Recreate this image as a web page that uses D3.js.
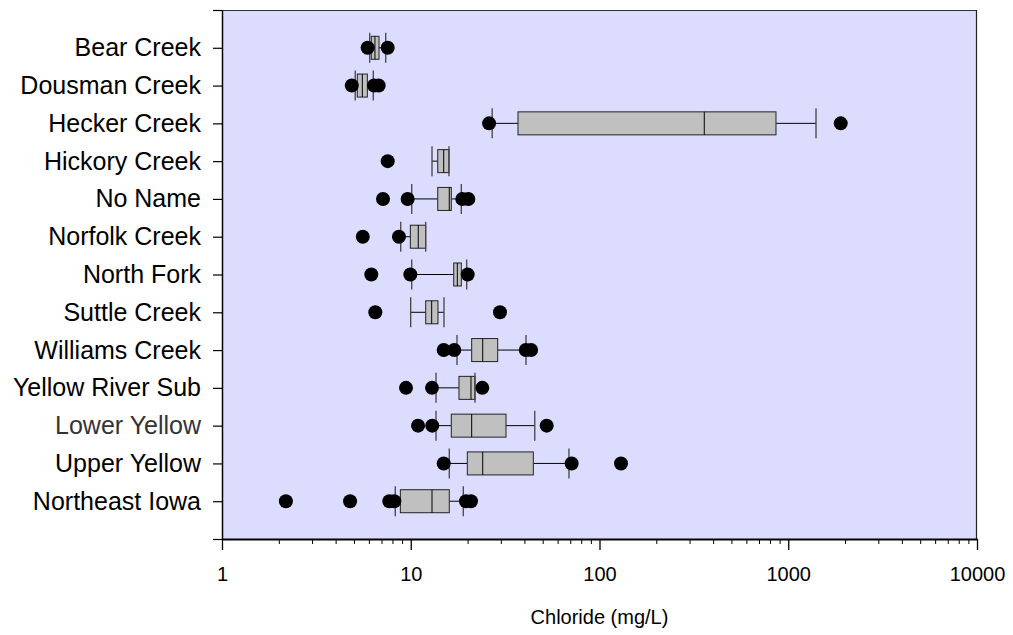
<!DOCTYPE html>
<html>
<head>
<meta charset="utf-8">
<script src="https://cdn.jsdelivr.net/npm/d3@7"></script>
<style>
  body { margin: 0; background: #fff; }
  svg { display: block; }
</style>
</head>
<body>
<svg id="chart" width="1013" height="635"></svg>
<script>
// ---- data (Chloride, mg/L) ----
const categories = ["Bear Creek","Dousman Creek","Hecker Creek","Hickory Creek","No Name","Norfolk Creek","North Fork","Suttle Creek","Williams Creek","Yellow River Sub","Lower Yellow","Upper Yellow","Northeast Iowa"];
const whiskerLow  = [6.06, 5.08, 27.0, 12.96, 10.12, 8.85, 10.12, 9.99, 17.58, 13.61, 13.61, 16.0, 8.28];
const q1          = [6.18, 5.21, 37.0, 13.9, 13.9, 9.95, 16.89, 12.0, 21.03, 18.01, 16.4, 19.94, 8.81];
const median      = [6.46, 5.54, 359, 14.95, 16.0, 10.96, 17.65, 12.91, 24.06, 20.85, 21.03, 24.06, 12.96];
const q3          = [6.79, 5.89, 861, 15.94, 16.4, 12.0, 18.53, 13.94, 28.88, 21.89, 31.96, 44.6, 16.0];
const whiskerHigh = [7.37, 6.33, 1403, 15.94, 18.53, 12.0, 19.79, 15.0, 40.8, 21.89, 45.4, 68.9, 18.98];
const outliers = [
  [5.91, 7.55],
  [4.87, 6.39, 6.76],
  [26.0, 1897],
  [7.55],
  [7.13, 9.63, 18.76, 20.18],
  [5.57, 8.66],
  [6.18, 9.95, 20.03],
  [6.49, 29.7],
  [14.95, 17.0, 40.7, 43.4],
  [9.44, 12.96, 23.94],
  [10.93, 13.0, 52.5],
  [14.95, 71.2, 130],
  [2.18, 4.77, 7.70, 8.18, 19.62, 20.85]
];
const xMajorTicks = [1, 10, 100, 1000, 10000];
const xTitle = "Chloride (mg/L)";

// ---- layout ----
const svg = d3.select("#chart");
const L = 222, R = 977, T = 10, B = 539;
const FONT = "'Liberation Sans', Arial, Helvetica, sans-serif";

const x = d3.scaleLog().domain([1, 10000]).range([L, R]);
const y = d3.scaleLinear().domain([0, categories.length + 1]).range([B, T]);
const pos = i => y(categories.length - i);

// plot background
svg.append("rect").attr("x", L).attr("y", T).attr("width", R - L).attr("height", B - T)
  .attr("fill", "#dcdcff");

// frame top & right
svg.append("line").attr("x1", L).attr("x2", R).attr("y1", T + 0.5).attr("y2", T + 0.5)
  .attr("stroke", "#333").attr("stroke-width", 1);
svg.append("line").attr("x1", R - 0.5).attr("x2", R - 0.5).attr("y1", T).attr("y2", B)
  .attr("stroke", "#222").attr("stroke-width", 1.2);

// boxes
const g = svg.append("g");
const boxH = 11.5, capH = 15;
categories.forEach((c, i) => {
  const cy = pos(i);
  // whiskers
  g.append("line").attr("x1", x(whiskerLow[i])).attr("x2", x(q1[i])).attr("y1", cy).attr("y2", cy)
    .attr("stroke", "#000").attr("stroke-width", 1);
  g.append("line").attr("x1", x(q3[i])).attr("x2", x(whiskerHigh[i])).attr("y1", cy).attr("y2", cy)
    .attr("stroke", "#000").attr("stroke-width", 1);
  // box
  g.append("rect").attr("x", x(q1[i])).attr("y", cy - boxH)
    .attr("width", x(q3[i]) - x(q1[i])).attr("height", 2 * boxH)
    .attr("fill", "#c0c0c0").attr("stroke", "#222").attr("stroke-width", 1);
  g.append("line").attr("x1", x(median[i])).attr("x2", x(median[i]))
    .attr("y1", cy - boxH).attr("y2", cy + boxH).attr("stroke", "#000").attr("stroke-width", 1);
  // caps
  [whiskerLow[i], whiskerHigh[i]].forEach(v => {
    g.append("line").attr("x1", x(v)).attr("x2", x(v)).attr("y1", cy - capH).attr("y2", cy + capH)
      .attr("stroke", "#444").attr("stroke-width", 1.3);
  });
  // outliers
  outliers[i].forEach(v => {
    g.append("circle").attr("cx", x(v)).attr("cy", cy).attr("r", 7).attr("fill", "#000");
  });
});

// y axis
const yAxis = d3.axisLeft(y)
  .tickValues(d3.range(0, categories.length + 2))
  .tickFormat(d => (d >= 1 && d <= categories.length) ? categories[categories.length - d] : "")
  .tickSize(9).tickSizeOuter(0).tickPadding(12);
const ya = svg.append("g").attr("transform", `translate(${L},0)`).call(yAxis);
ya.select(".domain").attr("stroke", "#000").attr("stroke-width", 1.5);
ya.selectAll(".tick line").attr("stroke", "#000").attr("stroke-width", 1.2);
ya.selectAll(".tick text").attr("font-family", FONT).attr("font-size", "25px")
  .attr("fill", d => (d >= 1 && d <= categories.length && categories[categories.length - d] === "Lower Yellow") ? "#333" : "#000");

// x axis minor ticks
const minor = [];
for (let e = 0; e < 4; e++) for (let k = 2; k <= 9; k++) minor.push(k * Math.pow(10, e));
const xMinor = d3.axisBottom(x).tickValues(minor).tickFormat("").tickSize(5).tickSizeOuter(0);
const xm = svg.append("g").attr("transform", `translate(0,${B})`).call(xMinor);
xm.select(".domain").remove();
xm.selectAll(".tick line").attr("stroke", "#000").attr("stroke-width", 1);

// x axis major
const xAxis = d3.axisBottom(x).tickValues(xMajorTicks).tickFormat(d3.format("d"))
  .tickSize(11).tickSizeOuter(0).tickPadding(17);
const xa = svg.append("g").attr("transform", `translate(0,${B})`).call(xAxis);
xa.select(".domain").attr("stroke", "#000").attr("stroke-width", 2);
xa.selectAll(".tick line").attr("stroke", "#000").attr("stroke-width", 1.3);
xa.selectAll(".tick text").attr("font-family", FONT).attr("font-size", "20px").attr("fill", "#000");

// x title
svg.append("text").attr("x", (L + R) / 2).attr("y", 624).attr("text-anchor", "middle")
  .attr("font-family", FONT).attr("font-size", "20px").attr("fill", "#000").text(xTitle);
</script>
</body>
</html>
